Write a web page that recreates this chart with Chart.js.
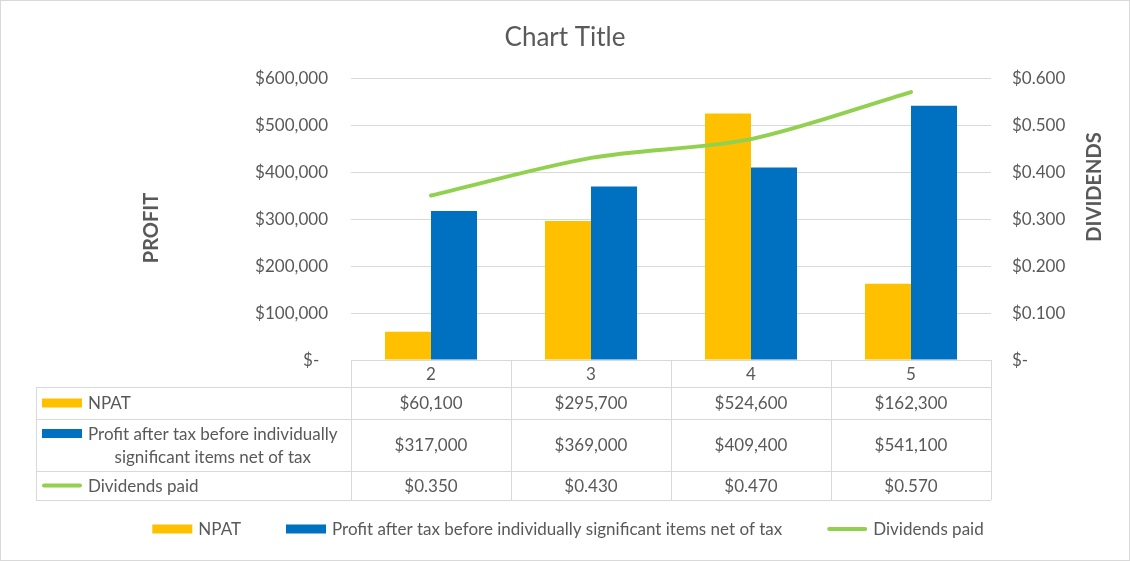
<!DOCTYPE html>
<html>
<head>
<meta charset="utf-8">
<script src="https://cdn.jsdelivr.net/npm/chart.js"></script>
<style>
  body { margin: 0; background: #fff; }
  #wrap { width: 1130px; height: 561px; position: relative; }
</style>
</head>
<body>
<div id="wrap"><canvas id="chart"></canvas></div>
<script>
"use strict";

// chart data
const categories = ["2", "3", "4", "5"];
const npat = [60100, 295700, 524600, 162300];
const profitBefore = [317000, 369000, 409400, 541100];
const dividends = [0.35, 0.43, 0.47, 0.57];
const seriesNames = ["NPAT", "Profit after tax before individually significant items net of tax", "Dividends paid"];
const tableLabelLines = [["NPAT"], ["Profit after tax before individually", "significant items net of tax"], ["Dividends paid"]];
const colors = ["#FFC000", "#0070C0", "#92D050"];
const textColor = "#595959";
const gridColor = "#d9d9d9";

Chart.defaults.font.family = "Lato";
Chart.defaults.font.size = 17;
Chart.defaults.color = textColor;

function money(v) {
    return v === 0 ? "$-  " : "$" + v.toLocaleString("en-US");
}
function moneyDiv(v) {
    return v === 0 ? "$-" : "$" + v.toFixed(3);
}

// swatch for a series (bar box or line)
function drawSwatch(ctx, i, x, y) {
    ctx.save();
    if (i === 2) {
        ctx.strokeStyle = colors[i];
        ctx.lineWidth = 4;
        ctx.lineCap = "round";
        ctx.beginPath();
        ctx.moveTo(x + 2, y);
        ctx.lineTo(x + 38, y);
        ctx.stroke();
    } else {
        ctx.fillStyle = colors[i];
        ctx.fillRect(x, y - 4.5, 40, 9);
    }
    ctx.restore();
}

// draws title, axis titles, data table, legend and outer border
const extrasPlugin = {
    id: "extras",
    afterDraw(chart) {
        const ctx = chart.ctx;
        const area = chart.chartArea;
        const xs = chart.scales.x;
        const half = xs.width / categories.length / 2;
        ctx.save();

        // title
        ctx.fillStyle = textColor;
        ctx.textAlign = "center";
        ctx.textBaseline = "middle";
        ctx.font = "26px Lato";
        ctx.fillText("Chart Title", chart.width / 2, 38);

        // axis titles
        ctx.font = "bold 20px Lato";
        ctx.save();
        ctx.translate(152, 228);
        ctx.rotate(-Math.PI / 2);
        ctx.fillText("PROFIT", 0, 0);
        ctx.restore();
        ctx.save();
        ctx.translate(1095, 187);
        ctx.rotate(-Math.PI / 2);
        ctx.fillText("DIVIDENDS", 0, 0);
        ctx.restore();

        // data table
        const rowH = [27, 32, 52, 29];
        const tops = [area.bottom];
        rowH.forEach(h => tops.push(tops[tops.length - 1] + h));
        const tLeft = 36;
        const tRight = area.right;
        ctx.strokeStyle = gridColor;
        ctx.lineWidth = 1;
        ctx.beginPath();
        ctx.moveTo(area.left, tops[0] + 0.5);
        ctx.lineTo(tRight, tops[0] + 0.5);
        for (let r = 1; r < tops.length; r++) {
            ctx.moveTo(tLeft, Math.round(tops[r]) + 0.5);
            ctx.lineTo(tRight, Math.round(tops[r]) + 0.5);
        }
        ctx.moveTo(tLeft + 0.5, tops[1]);
        ctx.lineTo(tLeft + 0.5, tops[4]);
        for (let c = 0; c <= categories.length; c++) {
            const cx = Math.round(area.left + c * half * 2) + 0.5;
            ctx.moveTo(cx, tops[0]);
            ctx.lineTo(cx, tops[4]);
        }
        ctx.stroke();

        ctx.font = "17px Lato";
        ctx.fillStyle = textColor;
        const rows = [npat.map(money), profitBefore.map(money), dividends.map(moneyDiv)];
        categories.forEach((c, i) => {
            const cx = xs.getPixelForValue(i);
            ctx.fillText(c, cx, (tops[0] + tops[1]) / 2 + 1);
            rows.forEach((row, r) => {
                ctx.fillText(row[i], cx, (tops[r + 1] + tops[r + 2]) / 2 + 1);
            });
        });

        // row labels
        tableLabelLines.forEach((lines, r) => {
            const mid = (tops[r + 1] + tops[r + 2]) / 2;
            const lineGap = 23;
            const y0 = mid - (lines.length - 1) * lineGap / 2;
            drawSwatch(ctx, r, 42, y0);
            const w = ctx.measureText(lines[0]).width;
            ctx.textAlign = "center";
            lines.forEach((t, k) => ctx.fillText(t, 88 + w / 2, y0 + k * lineGap + 1));
        });

        // legend
        const sw = 40, g1 = 6, g2 = 45;
        const widths = seriesNames.map(n => ctx.measureText(n).width);
        const total = widths.reduce((a, w) => a + sw + g1 + w, 0) + g2 * (seriesNames.length - 1);
        let lx = 568 - total / 2;
        const ly = 529;
        ctx.textAlign = "left";
        seriesNames.forEach((n, i) => {
            drawSwatch(ctx, i, lx, ly);
            ctx.fillStyle = textColor;
            ctx.fillText(n, lx + sw + g1, ly + 1);
            lx += sw + g1 + widths[i] + g2;
        });

        // outer border
        ctx.strokeStyle = gridColor;
        ctx.strokeRect(0.5, 0.5, chart.width - 1, chart.height - 1);
        ctx.restore();
    }
};

const config = {
    type: "bar",
    data: {
        labels: categories,
        datasets: [
            {
                type: "line",
                label: seriesNames[2],
                data: dividends,
                yAxisID: "y1",
                borderColor: colors[2],
                backgroundColor: colors[2],
                borderWidth: 4,
                borderCapStyle: "round",
                pointRadius: 0,
                tension: 0.3,
                order: 0
            },
            {
                label: seriesNames[0],
                data: npat,
                backgroundColor: colors[0],
                yAxisID: "y",
                categoryPercentage: 0.575,
                barPercentage: 1,
                order: 1
            },
            {
                label: seriesNames[1],
                data: profitBefore,
                backgroundColor: colors[1],
                yAxisID: "y",
                categoryPercentage: 0.575,
                barPercentage: 1,
                order: 1
            }
        ]
    },
    options: {
        responsive: true,
        maintainAspectRatio: false,
        animation: false,
        events: [],
        layout: { padding: { top: 78, left: 0, right: 0, bottom: 0 } },
        plugins: {
            legend: { display: false },
            title: { display: false },
            tooltip: { enabled: false }
        },
        scales: {
            x: {
                grid: { display: false },
                border: { display: false },
                ticks: { display: false },
                afterFit: s => { s.height = 201; }
            },
            y: {
                position: "left",
                min: 0,
                max: 600000,
                ticks: { stepSize: 100000, padding: 23, labelOffset: 1, callback: v => money(v) },
                grid: { color: gridColor, drawTicks: false },
                border: { display: false },
                afterFit: s => { s.width = 351; }
            },
            y1: {
                position: "right",
                min: 0,
                max: 0.6,
                ticks: { stepSize: 0.1, padding: 21, labelOffset: 1, callback: v => moneyDiv(v) },
                grid: { display: false, drawTicks: false },
                border: { display: false },
                afterFit: s => { s.width = 139; }
            }
        }
    },
    plugins: [extrasPlugin]
};

new Chart(document.getElementById("chart"), config);
</script>
</body>
</html>
